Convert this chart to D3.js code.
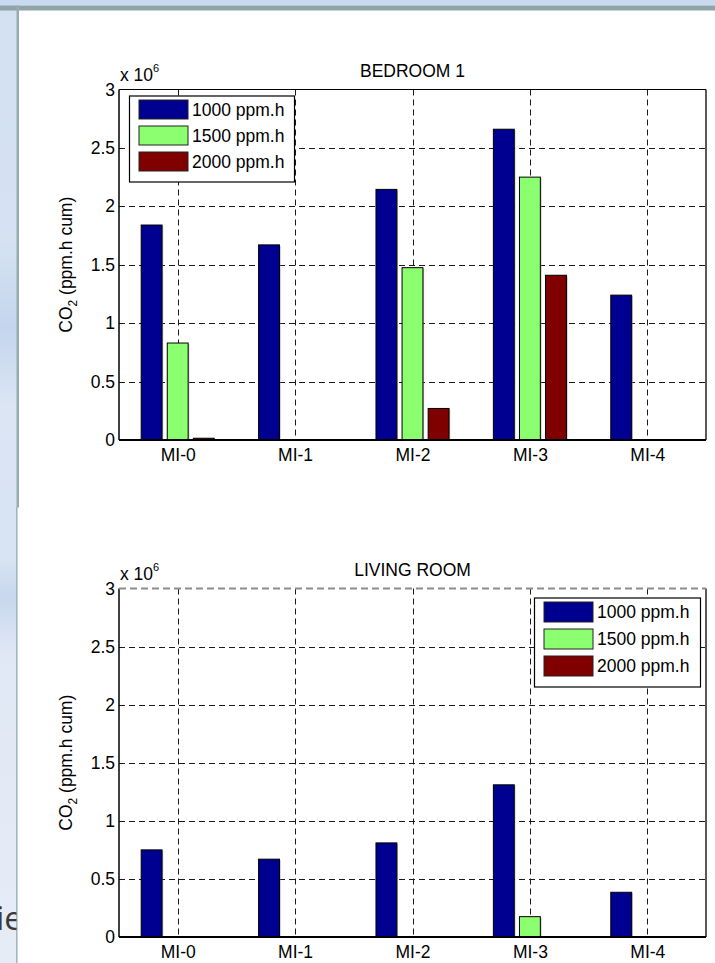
<!DOCTYPE html>
<html>
<head>
<meta charset="utf-8">
<script src="https://cdn.jsdelivr.net/npm/d3@7"></script>
<style>
  html, body { margin: 0; padding: 0; background: #fff; }
  svg { display: block; }
  text { font-family: "Liberation Sans", Arial, sans-serif; fill: #000; }
</style>
</head>
<body>
<svg id="chart" width="715" height="963"></svg>
<script>
// ---- data (CO2 cumulated exposure, ppm.h) ----
const categories = ["MI-0", "MI-1", "MI-2", "MI-3", "MI-4"];
const seriesNames = ["1000 ppm.h", "1500 ppm.h", "2000 ppm.h"];
const seriesColors = ["#000090", "#8cff70", "#800000"];
const yTickValues = [0, 0.5e6, 1e6, 1.5e6, 2e6, 2.5e6, 3e6];

const bedroom1000 = [1.84e6, 1.67e6, 2.145e6, 2.66e6, 1.24e6];
const bedroom1500 = [0.83e6, 0, 1.475e6, 2.25e6, 0];
const bedroom2000 = [0.015e6, 0, 0.27e6, 1.41e6, 0];

const living1000 = [0.75e6, 0.67e6, 0.81e6, 1.31e6, 0.385e6];
const living1500 = [0, 0, 0, 0.175e6, 0];
const living2000 = [0, 0, 0, 0, 0];

const panels = [
  { title: "BEDROOM 1", series: [bedroom1000, bedroom1500, bedroom2000],
    top: 89.5, bottom: 440, legend: { x: 129, y: 95.5, w: 165, h: 86 }, dashedTop: false },
  { title: "LIVING ROOM", series: [living1000, living1500, living2000],
    top: 588.5, bottom: 937, legend: { x: 534, y: 597.5, w: 166, h: 89 }, dashedTop: true }
];

const W = 715, H = 963;
const plotLeft = 119, plotRight = 706;
const FS = 17.5;

const svg = d3.select("#chart");
const defs = svg.append("defs");

// ---- slide background around the white panel ----
const grad = defs.append("linearGradient").attr("id", "sideGrad")
  .attr("x1", 0).attr("y1", 0).attr("x2", 0).attr("y2", 1);
[[0, "#d3e0f2"], [0.25, "#d6e2f2"], [0.34, "#c4d5ee"], [0.42, "#dbe5f4"],
 [0.58, "#d8e3f3"], [0.62, "#c8d7ee"], [0.68, "#e0e8f5"], [1, "#e6ecf6"]]
  .forEach(([o, c]) => grad.append("stop").attr("offset", o).attr("stop-color", c));

svg.append("rect").attr("width", W).attr("height", H).attr("fill", "#fff");
svg.append("rect").attr("x", 0).attr("y", 0).attr("width", 17).attr("height", H).attr("fill", "url(#sideGrad)");
svg.append("rect").attr("x", 0).attr("y", 0).attr("width", W).attr("height", 5.5).attr("fill", "#c9daf0");
svg.append("rect").attr("x", 0).attr("y", 5.5).attr("width", W).attr("height", 5).attr("fill", "#8fa4a6");
svg.append("rect").attr("x", 16.5).attr("y", 5.5).attr("width", 2.5).attr("height", 502).attr("fill", "#97acb0");
svg.append("rect").attr("x", 16).attr("y", 507).attr("width", 1.6).attr("height", H - 507).attr("fill", "#a3b7ba");

// slide body text running under the panel, only its tail shows
defs.append("clipPath").attr("id", "sideClip")
  .append("rect").attr("x", 0).attr("y", 0).attr("width", 16.5).attr("height", H);
svg.append("text").attr("clip-path", "url(#sideClip)")
  .attr("x", -4).attr("y", 930).attr("text-anchor", "start")
  .style("font-family", "'Open Sans', 'Noto Sans', sans-serif")
  .style("font-size", "33px").style("fill", "#3a3a3a")
  .text("ie");

// ---- shared x scale (bar groups at positions 1..5) ----
const x = d3.scaleLinear().domain([0.5, categories.length + 0.5]).range([plotLeft, plotRight]);
const nSeries = seriesNames.length;
const groupWidth = Math.min(0.8, nSeries / (nSeries + 1.5));
const slot = groupWidth / nSeries;
const barW = x(0.8 * slot) - x(0);

panels.forEach(p => {
  const g = svg.append("g");
  const y = d3.scaleLinear().domain([0, 3e6]).range([p.bottom, p.top]);

  // grid
  const grid = g.append("g").attr("stroke", "#1a1a1a").attr("stroke-width", 1)
    .attr("stroke-dasharray", "6,4");
  grid.selectAll("line.v").data(d3.range(1, categories.length + 1)).join("line")
    .attr("x1", d => Math.round(x(d)) + 0.5).attr("x2", d => Math.round(x(d)) + 0.5)
    .attr("y1", p.top).attr("y2", p.bottom);
  grid.selectAll("line.h").data(yTickValues.filter(v => v > 0 && v < 3e6)).join("line")
    .attr("x1", plotLeft).attr("x2", plotRight)
    .attr("y1", d => Math.round(y(d)) + 0.5).attr("y2", d => Math.round(y(d)) + 0.5);

  // bars
  p.series.forEach((vals, si) => {
    const off = (si - (nSeries - 1) / 2) * slot;
    const bars = g.append("g");
    bars.selectAll("rect.sh").data(vals).join("rect")
      .attr("x", (d, i) => x(i + 1 + off) - barW / 2 + 1.2)
      .attr("y", d => y(d) + 1)
      .attr("width", barW).attr("height", d => Math.max(0, y(0) - y(d)))
      .attr("fill", "#8a8a8a").attr("opacity", 0.55);
    bars.selectAll("rect.bar").data(vals).join("rect")
      .attr("x", (d, i) => x(i + 1 + off) - barW / 2)
      .attr("y", d => y(d))
      .attr("width", barW).attr("height", d => Math.max(0, y(0) - y(d)))
      .attr("fill", seriesColors[si]).attr("stroke", "#000").attr("stroke-width", 1);
  });

  // axes frame
  const frame = g.append("g").attr("fill", "none");
  frame.append("line").attr("x1", plotLeft).attr("x2", plotLeft).attr("y1", p.top).attr("y2", p.bottom)
    .attr("stroke", "#000").attr("stroke-width", 1.5);
  frame.append("line").attr("x1", plotRight).attr("x2", plotRight).attr("y1", p.top).attr("y2", p.bottom)
    .attr("stroke", "#000").attr("stroke-width", 1.3);
  frame.append("line").attr("x1", plotLeft).attr("x2", plotRight).attr("y1", p.bottom).attr("y2", p.bottom)
    .attr("stroke", "#000").attr("stroke-width", 2.2);
  if (p.dashedTop) {
    frame.append("line").attr("x1", plotLeft).attr("x2", plotRight).attr("y1", p.top).attr("y2", p.top)
      .attr("stroke", "#8c8c8c").attr("stroke-width", 2.2).attr("stroke-dasharray", "7,4");
  } else {
    frame.append("line").attr("x1", plotLeft).attr("x2", plotRight).attr("y1", p.top).attr("y2", p.top)
      .attr("stroke", "#000").attr("stroke-width", 1.2);
  }

  // y axis labels
  const yAxis = d3.axisLeft(y).tickValues(yTickValues).tickSize(0).tickPadding(4)
    .tickFormat(d => d3.format("~g")(d / 1e6));
  const ya = g.append("g").attr("transform", `translate(${plotLeft},0)`).call(yAxis);
  ya.select(".domain").remove();
  ya.selectAll("text").style("font-size", FS + "px").style("fill", "#000");

  // x axis labels
  const xAxis = d3.axisBottom(x).tickValues(d3.range(1, categories.length + 1))
    .tickSize(0).tickPadding(9).tickFormat(d => categories[d - 1]);
  const xa = g.append("g").attr("transform", `translate(0,${p.bottom})`).call(xAxis);
  xa.select(".domain").remove();
  xa.selectAll("text").style("font-size", FS + "px").style("fill", "#000");

  // exponent
  const ex = g.append("text").attr("x", plotLeft + 1).attr("y", p.top - 8.5).style("font-size", FS + "px");
  ex.append("tspan").text("x 10");
  ex.append("tspan").attr("dy", -9).style("font-size", "11px").text("6");

  // title
  g.append("text").attr("x", (plotLeft + plotRight) / 2).attr("y", p.top - 13)
    .attr("text-anchor", "middle").style("font-size", FS + "px").text(p.title);

  // y label
  const yl = g.append("text")
    .attr("transform", `translate(72,${(p.top + p.bottom) / 2}) rotate(-90)`)
    .attr("text-anchor", "middle").style("font-size", FS + "px");
  yl.append("tspan").text("CO");
  yl.append("tspan").attr("dy", 5).style("font-size", "12px").text("2");
  yl.append("tspan").attr("dy", -5).text(" (ppm.h cum)");

  // legend
  const L = p.legend;
  const lg = g.append("g").attr("transform", `translate(${L.x},${L.y})`);
  lg.append("rect").attr("x", 0.5).attr("y", 0.5).attr("width", L.w).attr("height", L.h)
    .attr("fill", "#fff").attr("stroke", "#000").attr("stroke-width", 1.2);
  const rowH = (L.h - 8) / nSeries;
  seriesNames.forEach((name, i) => {
    const ry = 4.5 + i * rowH;
    lg.append("rect").attr("x", 10).attr("y", ry).attr("width", 49).attr("height", rowH - 7)
      .attr("fill", seriesColors[i]).attr("stroke", "#222").attr("stroke-width", 1);
    lg.append("text").attr("x", 63).attr("y", ry + (rowH - 7) / 2 + 6.3)
      .style("font-size", FS + "px").text(name);
  });
});
</script>
</body>
</html>
